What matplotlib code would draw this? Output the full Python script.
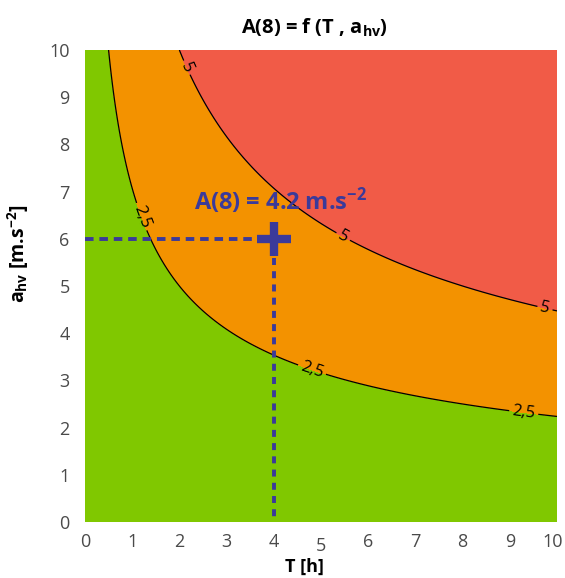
import numpy as np
import matplotlib
matplotlib.use("Agg")
import matplotlib.pyplot as plt
from matplotlib.transforms import ScaledTranslation

# ---- data ----
t_range = [0, 10]               # exposure duration T [h]
a_range = [0, 10]               # vibration magnitude a_hv [m.s-2]
ref_duration = 8                # reference duration [h]
levels = [2.5, 5]               # action / limit values
level_labels = ["2,5", "5"]
zone_colors = ["#80c800", "#f39200", "#f15b47"]
point_T = 4
point_a = 6
point_label = "A(8) = 4.2 m.s$^{\\mathregular{-2}}$"
x_ticks = [0, 1, 2, 3, 4, 5, 6, 7, 8, 9, 10]
y_ticks = [0, 1, 2, 3, 4, 5, 6, 7, 8, 9, 10]
label_positions = [(1.15, 6.45), (4.8, 3.2), (9.3, 2.35),
                   (2.1, 9.6), (5.5, 6.1), (9.75, 4.55)]

plt.rcParams['font.family'] = ['Open Sans', 'DejaVu Sans']
plt.rcParams['axes.unicode_minus'] = False
plt.rcParams['mathtext.fontset'] = 'custom'
plt.rcParams['mathtext.rm'] = 'Open Sans'
plt.rcParams['mathtext.bf'] = 'Open Sans:bold'
plt.rcParams['mathtext.it'] = 'Open Sans:italic'

T = np.linspace(t_range[0], t_range[1], 400)
A = np.linspace(a_range[0], a_range[1], 400)
TT, AA = np.meshgrid(T, A)
Z = AA * np.sqrt(TT / ref_duration)

fig = plt.figure(figsize=(5.65, 5.78), dpi=100)
ax = fig.add_axes([0.1504, 0.0969, 0.8354, 0.8166])

ax.contourf(TT, AA, Z, levels=[-1] + levels + [100], colors=zone_colors)
cs = ax.contour(TT, AA, Z, levels=levels, colors="black", linewidths=0.9)
ax.clabel(cs, fmt=dict(zip(levels, level_labels)), fontsize=12, inline=True,
          manual=label_positions, inline_spacing=3)

dash_col = "#3b3a9a"
ax.plot([0, point_T - 0.35], [point_a, point_a], color=dash_col, lw=2.8,
        dashes=(2.2, 1.5))
ax.plot([point_T, point_T], [point_a - 0.4, 0], color=dash_col, lw=2.8,
        dashes=(1.8, 1.6))
ax.plot([point_T], [point_a], marker="+", markersize=25, markeredgewidth=6,
        color=dash_col, linestyle="none")
ax.text(point_T + 0.15, point_a + 0.8, point_label, color=dash_col,
        fontsize=17, fontweight="bold", ha="center", va="center")

ax.set_xlim(t_range)
ax.set_ylim(a_range)
ax.set_xticks(x_ticks)
ax.set_yticks(y_ticks)
ax.tick_params(length=0, labelsize=13, labelcolor="#4a4a4a")
ax.tick_params(axis="y", pad=11)
ax.tick_params(axis="x", pad=8)
for s in ax.spines.values():
    s.set_visible(False)

ax.set_title("A(8) = f (T , a$_{\\mathbf{hv}}$)", fontsize=14.5,
             fontweight="bold", pad=12, x=0.487)
ax.set_xlabel("T [h]", fontsize=13, fontweight="bold")
ax.xaxis.set_label_coords(0.464, -0.075)
ax.set_ylabel("a$_{\\mathbf{hv}}$ [m.s$^{\\mathbf{-2}}$]", fontsize=14,
              fontweight="bold")
ax.yaxis.set_label_coords(-0.142, 0.568)
ax.yaxis.label.set_va("center")

fig.canvas.draw()
xl = ax.get_xticklabels()
xl[5].set_transform(xl[5].get_transform() + ScaledTranslation(0, -3 / 72, fig.dpi_scale_trans))
xl[10].set_transform(xl[10].get_transform() + ScaledTranslation(-3 / 72, 0, fig.dpi_scale_trans))

fig.savefig("out.png", dpi=100)
